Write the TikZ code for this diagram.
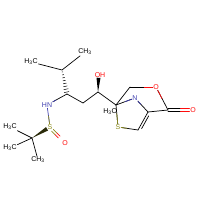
\documentclass[tikz,border=0pt]{standalone}
\usepackage{fontspec}
\setmainfont{Liberation Sans}
\usetikzlibrary{calc}
\definecolor{ocol}{HTML}{FF0D0D}
\definecolor{ncol}{HTML}{4040B0}
\definecolor{scol}{HTML}{8C8C1E}
\begin{document}
\begin{tikzpicture}[x=1pt,y=-1pt,
  lab/.style={inner sep=0.6pt, font=\fontsize{7}{7}\selectfont},
  bond/.style={line width=0.7pt, line cap=round}]
\useasboundingbox (0,0) rectangle (200,200);
% carbon coordinates
\coordinate (cip) at (62,70);
\coordinate (ca) at (67,94);
\coordinate (cm) at (83,103);
\coordinate (coh) at (98,92);
\coordinate (c2) at (116,105);
\coordinate (c4) at (148,112);
\coordinate (c5) at (138,130);
\coordinate (cco) at (168,110);
\coordinate (cet) at (130,87);
\coordinate (ctb) at (32,138);
% labels
\node[lab] (me1) at (85,52) {CH\textsubscript{3}};
\node[lab] (me2) at (31,62) {H\textsubscript{3}C};
\node[lab,text=ncol] (nh) at (47,105) {HN};
\node[lab,text=scol] (s1) at (50,127) {S};
\node[lab,text=ocol] (o1) at (65,143) {O};
\node[lab] (me3) at (10,127) {H\textsubscript{3}C};
\node[lab] (me4) at (10,148) {H\textsubscript{3}C};
\node[lab] (me5) at (38,160) {CH\textsubscript{3}};
\node[lab,text=ocol] (oh) at (100,75) {OH};
\node[lab,text=ncol] (n3) at (135,98) {N};
\node[lab,text=scol] (s2) at (118,127) {S};
\node[lab,text=ocol] (oe) at (156,87) {O};
\node[lab,text=ocol] (oc) at (193,110) {O};
\node[lab] (me6) at (110,112) {H\textsubscript{3}C};
% bonds
\draw[bond] (cip) -- (me1);
\draw[bond] (cip) -- (me2);
% hashed bond cip -> ca
\foreach \t in {0.08,0.2,0.32,0.44,0.56,0.68,0.8,0.92}{
  \draw[line width=0.5pt] ($(cip)!\t!(ca)!{0.4pt+\t*2.4pt}!90:(ca)$) -- ($(cip)!\t!(ca)!{0.4pt+\t*2.4pt}!-90:(ca)$);
}
\draw[bond] (ca) -- (nh);
\draw[bond,ncol] (nh) -- ($(nh)!0.45!(ca)$);
\draw[bond,ncol] (nh) -- (s1);
\draw[bond,scol] (s1) -- ($(s1)!0.5!(nh)$);
% S=O
\draw[bond,scol] ($(s1.south east)+(0.3,-0.8)$) -- ++(3.5,3.5);
\draw[bond,ocol] ($(s1.south east)+(3.8,2.7)$) -- ++(3.2,3.2);
\draw[bond,scol] ($(s1.south east)+(-1.5,0.9)$) -- ++(3.5,3.5);
\draw[bond,ocol] ($(s1.south east)+(2,4.4)$) -- ++(3.2,3.2);
% wedge tBu C -> S
\coordinate (sw) at ($(s1)!3.5pt!(ctb)$);
\fill[black!70!scol] (ctb) -- ($(sw)!2pt!90:(ctb)$) -- ($(sw)!2pt!-90:(ctb)$) -- cycle;
\draw[bond] (ctb) -- (me3);
\draw[bond] (ctb) -- (me4);
\draw[bond] (ctb) -- (me5);
% chain
\draw[bond] (ca) -- (cm) -- (coh) -- (c2);
% OH wedge
\coordinate (ow) at ($(oh.south)+(-1.5,-0.5)$);
\fill (coh) -- ($(ow)!2pt!90:(coh)$) -- ($(ow)!2pt!-90:(coh)$) -- cycle;
% thiazole
\draw[bond] (c2) -- (n3);
\draw[bond,ncol] (n3) -- ($(n3)!0.5!(c2)$);
\draw[bond] (n3) -- (c4);
\draw[bond,ncol] (n3) -- ($(n3)!0.45!(c4)$);
\draw[bond] (c4) -- (c5);
\draw[bond] ($(c4)!0.15!(c5)!2.5pt!90:(c5)$) -- ($(c4)!0.85!(c5)!2.5pt!90:(c5)$);
\draw[bond] (c5) -- (s2);
\draw[bond,scol] (s2) -- ($(s2)!0.45!(c5)$);
\draw[bond] (s2) -- (c2);
\draw[bond,scol] (s2) -- ($(s2)!0.6!(c2)$);
% ester
\draw[bond] (c4) -- (cco);
\draw[bond] (cco) -- (oe);
\draw[bond,ocol] (oe) -- ($(oe)!0.5!(cco)$);
\draw[bond] (oe) -- (cet);
\draw[bond,ocol] (oe) -- ($(oe)!0.45!(cet)$);
\draw[bond] (cet) -- (c2);
% C=O
\draw[bond] ($(cco)+(0,-1.3)$) -- ($(cco)!0.5!(oc)+(0,-1.3)$);
\draw[bond,ocol] ($(cco)!0.5!(oc)+(0,-1.3)$) -- ($(oc.west)+(0,-1.3)$);
\draw[bond] ($(cco)+(0,1.3)$) -- ($(cco)!0.5!(oc)+(0,1.3)$);
\draw[bond,ocol] ($(cco)!0.5!(oc)+(0,1.3)$) -- ($(oc.west)+(0,1.3)$);
\end{tikzpicture}
\end{document}
